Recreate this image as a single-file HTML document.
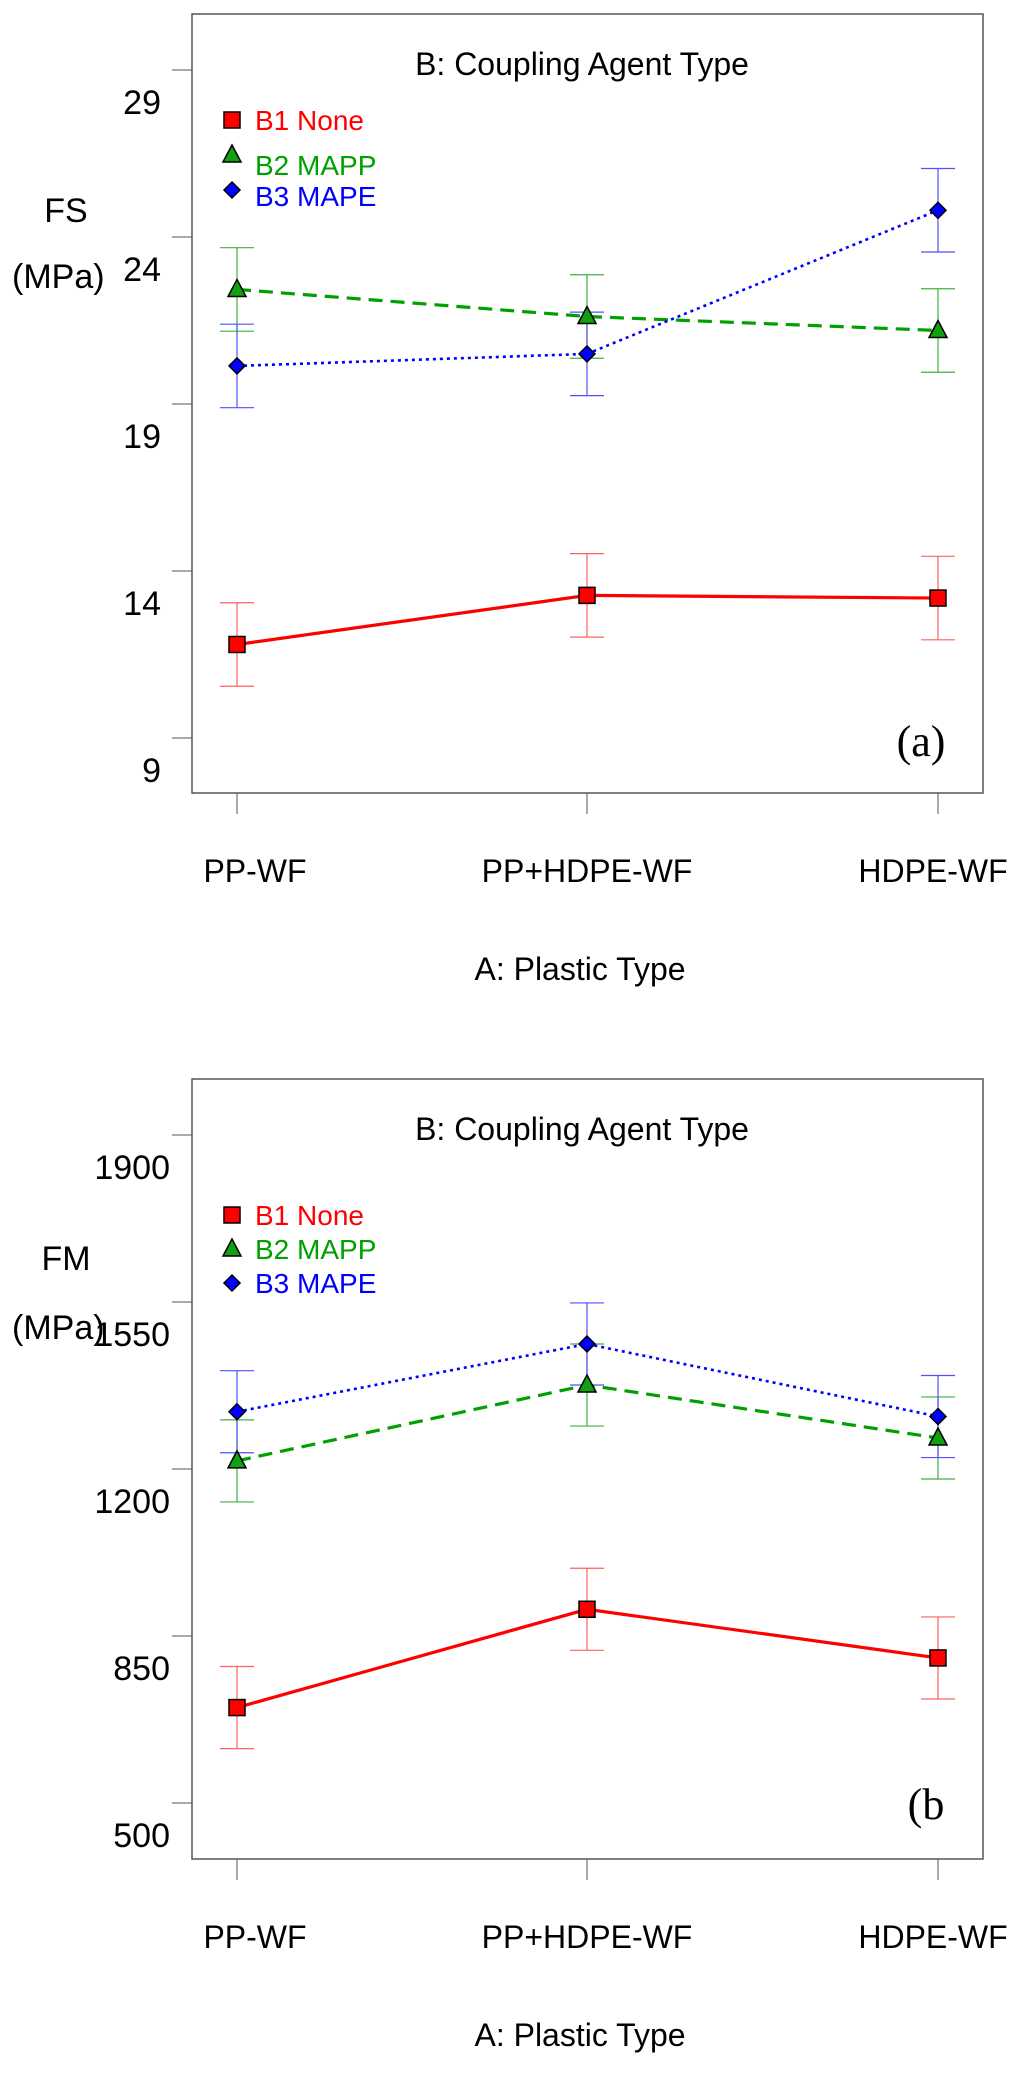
<!DOCTYPE html>
<html><head><meta charset="utf-8"><style>
html,body{margin:0;padding:0;background:#fff;}
svg{display:block;font-family:"Liberation Sans",sans-serif;}
</style></head><body>
<svg id="fig" width="1024" height="2078" viewBox="0 0 1024 2078" xmlns="http://www.w3.org/2000/svg"></svg>
<script>
const categories = ["PP-WF","PP+HDPE-WF","HDPE-WF"];
const seriesNames = ["B1 None","B2 MAPP","B3 MAPE"];
const fsTicks = [9,14,19,24,29];
const fsB1 = [11.8,13.27,13.19];
const fsB2 = [22.43,21.62,21.2];
const fsB3 = [20.14,20.5,24.8];
const fsErr = [1.25,1.25,1.25];
const fmTicks = [500,850,1200,1550,1900];
const fmB1 = [700,906,804];
const fmB2 = [1217,1376,1265];
const fmB3 = [1320,1462,1310];
const fmErr = [86,86,86];

const NS="http://www.w3.org/2000/svg";
const svg=document.getElementById('fig');
function mk(tag,attrs,parent,text){const e=document.createElementNS(NS,tag);for(const k in attrs)e.setAttribute(k,attrs[k]);if(text!==undefined)e.textContent=text;(parent||svg).appendChild(e);return e;}

const colors=["#ff0000","#00a000","#0000ff"];
const errColors=["#ff6060","#40b040","#5050ff"];
const dashes=["none","14,8","3,4"];
const widths=[3.2,3.2,2.6];

function panel(o){
  const g=mk('g',{});
  
  
  const L=192,R=983,T=o.top,B=o.bottom;
  const xs=[237,587,938];
  const x=i=>xs[i];
  const y=v=>o.y0+(o.t0-v)*o.scale;
  const fr=mk('rect',{x:L,y:T,width:R-L,height:B-T,fill:'none',stroke:'#555',"stroke-width":1.5},g);
  
  o.ticks.forEach(t=>{
    const tl=mk('line',{x1:172,x2:L,y1:y(t),y2:y(t),stroke:'#555',"stroke-width":1},g);
    
    const tx=mk('text',{x:o.labelX,y:y(t)+44,"text-anchor":"end","font-size":34,fill:'#000'},g,String(t));
    
  });
  categories.forEach((c,i)=>{
    const tl=mk('line',{x1:x(i),x2:x(i),y1:B,y2:B+21,stroke:'#555',"stroke-width":1},g);
    
    const tx=mk('text',{x:x(i)+(i==0?18:(i==2?-5:0)),y:B+89,"text-anchor":"middle","font-size":32,fill:'#000'},g,c);
    
  });
  const xt=mk('text',{x:580,y:B+187,"text-anchor":"middle","font-size":32},g,"A: Plastic Type");
  
  const tt=mk('text',{x:582,y:T+61,"text-anchor":"middle","font-size":32},g,"B: Coupling Agent Type");
  
  const y1=mk('text',{x:66,y:o.yl1,"text-anchor":"middle","font-size":34},g,o.ylab);
  
  const y2=mk('text',{x:12,y:o.yl2,"font-size":34},g,"(MPa)");
  
  const pl=mk('text',{x:o.plx,y:o.ply,"text-anchor":"middle","font-size":44,"font-family":"Liberation Serif, serif"},g,o.plabel);
  
  // error bars
  o.series.forEach((s,k)=>{
    s.forEach((v,i)=>{
      const e=o.err[i];
      const eg=mk('path',{d:`M${x(i)-17},${y(v+e)}H${x(i)+17}M${x(i)},${y(v+e)}V${y(v-e)}M${x(i)-17},${y(v-e)}H${x(i)+17}`,stroke:errColors[k],"stroke-width":1.2,fill:'none'},g);
      
    });
  });
  o.series.forEach((s,k)=>{
    const ln=mk('polyline',{points:s.map((v,i)=>x(i)+','+y(v)).join(' '),fill:'none',stroke:colors[k],"stroke-width":widths[k],"stroke-dasharray":dashes[k]},g);
    
  });
  function marker(k,cx,cy,par){
    let m;
    if(k==0)m=mk('rect',{x:cx-8,y:cy-8,width:16,height:16,fill:'#ff0000',stroke:'#000',"stroke-width":1.5},par);
    else if(k==1)m=mk('polygon',{points:`${cx},${cy-10} ${cx+9},${cy+7} ${cx-9},${cy+7}`,fill:'#10a010',stroke:'#000',"stroke-width":1.5},par);
    else m=mk('polygon',{points:`${cx},${cy-8} ${cx+8},${cy} ${cx},${cy+8} ${cx-8},${cy}`,fill:'#0000ff',stroke:'#000',"stroke-width":1.5},par);
    return m;
  }
  o.series.forEach((s,k)=>{
    s.forEach((v,i)=>{
      const m=marker(k,x(i),y(v),g);
      
    });
  });
  seriesNames.forEach((n,k)=>{
    const lg=mk('g',{},g);
    
    marker(k,232,o.legM[k],lg);
    mk('text',{x:255,y:o.legT[k]+10,"font-size":28,fill:colors[k]},lg,n);
  });
}
panel({name:'chart-fs',top:14,bottom:793,ticks:fsTicks,t0:29,y0:70,scale:167/5,labelX:161,
  series:[fsB1,fsB2,fsB3],err:fsErr,ylab:"FS",yl1:222,yl2:288,plabel:"(a)",plx:921,ply:756,
  legM:[120,155,190],legT:[120,165,196]});
panel({name:'chart-fm',top:1079,bottom:1859,ticks:fmTicks,t0:1900,y0:1135,scale:167/350,labelX:170,
  series:[fmB1,fmB2,fmB3],err:fmErr,ylab:"FM",yl1:1270,yl2:1339,plabel:"(b",plx:926,ply:1819,
  legM:[1215,1249,1283],legT:[1215,1249,1283]});
</script>
</body></html>
